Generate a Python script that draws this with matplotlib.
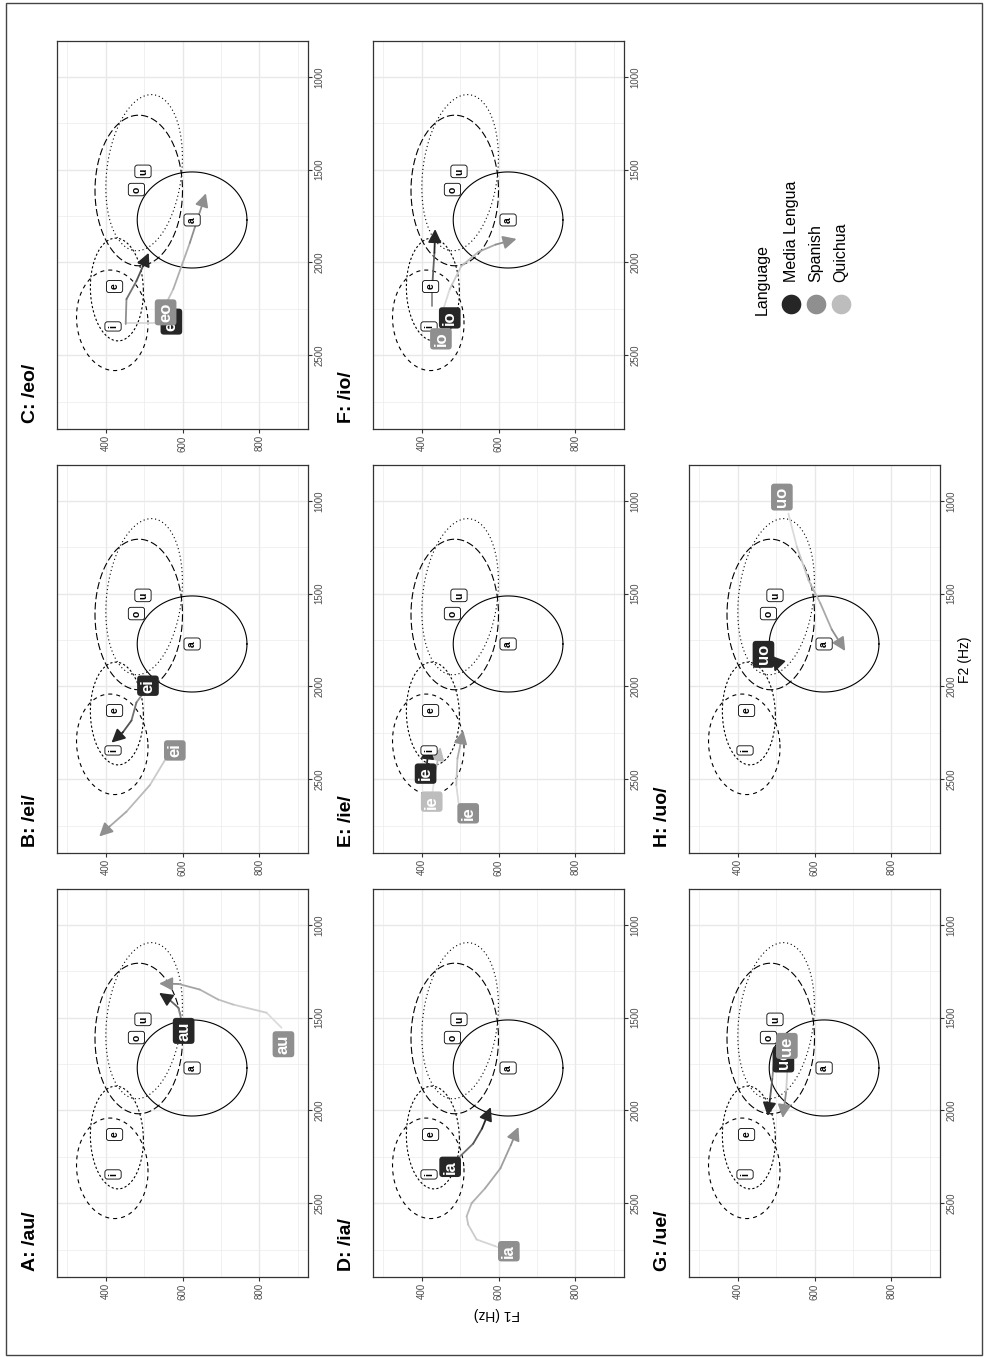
import numpy as np
import matplotlib.pyplot as plt
from matplotlib.collections import LineCollection
from matplotlib.patches import Rectangle
from matplotlib.colors import to_rgb

plt.rcParams['font.family'] = ['Liberation Sans', 'DejaVu Sans']
plt.rcParams['lines.scale_dashes'] = False

W, H = 988, 1357

# ---- vowel space (F1, F2 in Hz) ----
vowels = ['i', 'e', 'a', 'o', 'u']
vowel_f1 = [419, 423, 625, 480, 497]
vowel_f2 = [2345, 2130, 1771, 1607, 1509]
ell_f1 = [417, 429, 625, 486, 500]
ell_f2 = [2312, 2146, 1771, 1612, 1516]
ell_rf1 = [93, 69, 143, 114, 98]
ell_rf2 = [271, 277, 259, 406, 421]
ell_shear = [6, 3, 0, 0, -19]

# ---- diphthong trajectories (F1 list, F2 list) ----
A_ml = ([603, 589, 567, 539], [1560, 1446, 1405, 1366])
A_sp = ([858, 819, 732, 693, 645, 590, 539], [1554, 1473, 1429, 1402, 1348, 1318, 1316])
B_ml = ([500, 480, 467, 445, 415], [2030, 2086, 2184, 2246, 2303])
B_sp = ([580, 554, 515, 454, 410, 383], [2345, 2398, 2532, 2675, 2755, 2809])
C_ml = ([452, 454, 480, 497, 512], [2332, 2198, 2100, 2020, 1948])
C_sp = ([454, 532, 576, 619, 661], [2326, 2326, 2144, 1895, 1627])
D_ml = ([474, 503, 534, 557, 580], [2304, 2241, 2179, 2098, 1982])
D_sp = ([627, 592, 543, 521, 517, 530, 565, 605, 632, 652],
        [2759, 2732, 2696, 2616, 2571, 2500, 2420, 2312, 2187, 2089])
E_ml = ([412, 419], [2443, 2318])
E_qu = ([428, 437, 449], [2568, 2443, 2327])
E_sp = ([496, 490, 493, 502, 508], [2630, 2532, 2389, 2300, 2237])
F_ml = ([428, 428, 433, 435], [2233, 2109, 1948, 1820])
F_sp = ([455, 473, 503, 548, 592, 647], [2260, 2144, 2020, 1943, 1904, 1873])
G_ml = ([497, 490, 484, 478], [1687, 1830, 1938, 2030])
G_sp = ([530, 526, 517], [1759, 1902, 2041])
H_ml = ([490, 504, 496], [1832, 1875, 1921])
H_sp = ([532, 554, 584, 615, 645, 680], [1068, 1246, 1425, 1550, 1693, 1809])

# ---- diphthong label positions (F1, F2) ----
A_lab = {'ml': (603, 1571), 'sp': (863, 1643)}
B_lab = {'ml': (510, 1996), 'sp': (580, 2345)}
C_lab = {'ml': (571, 2319), 'sp': (556, 2269)}
D_lab = {'ml': (474, 2304), 'sp': (627, 2759)}
E_lab = {'ml': (410, 2470), 'qu': (426, 2621), 'sp': (521, 2684)}
F_lab = {'ml': (473, 2299), 'sp': (450, 2412)}
G_lab = {'ml': (519, 1725), 'sp': (528, 1652)}
H_lab = {'ml': (467, 1827), 'sp': (515, 979)}

panels = [
    ('A: /au/', 'au', 0, 2, {'ml': A_ml, 'sp': A_sp}, A_lab),
    ('B: /ei/', 'ei', 0, 1, {'ml': B_ml, 'sp': B_sp}, B_lab),
    ('C: /eo/', 'eo', 0, 0, {'ml': C_ml, 'sp': C_sp}, C_lab),
    ('D: /ia/', 'ia', 1, 2, {'ml': D_ml, 'sp': D_sp}, D_lab),
    ('E: /ie/', 'ie', 1, 1, {'ml': E_ml, 'qu': E_qu, 'sp': E_sp}, E_lab),
    ('F: /io/', 'io', 1, 0, {'ml': F_ml, 'sp': F_sp}, F_lab),
    ('G: /ue/', 'ue', 2, 2, {'ml': G_ml, 'sp': G_sp}, G_lab),
    ('H: /uo/', 'uo', 2, 1, {'ml': H_ml, 'sp': H_sp}, H_lab),
]

languages = ['Media Lengua', 'Spanish', 'Quichua']
lang_keys = ['ml', 'sp', 'qu']
lang_fill = {'ml': '#262626', 'sp': '#8f8f8f', 'qu': '#bdbdbd'}
line_start = {'ml': '#9e9e9e', 'sp': '#e3e3e3', 'qu': '#efefef'}
ell_dash = [(0, (2.9, 2.9)), (0, (1.6, 1.6)), '-', (0, (5.2, 2.2)), (0, (0.8, 2.0))]

col_left = [57, 373, 689]
row_top = [41, 465, 889]
PW, PH = 251, 388


def blend(c0, c1, t):
    a, b = np.array(to_rgb(c0)), np.array(to_rgb(c1))
    return tuple(a + (b - a) * t)


def draw_traj(ax, f1, f2, key):
    c0, c1 = line_start[key], lang_fill[key]
    pts = np.column_stack([f1, f2])
    n = len(pts)
    if n > 2:
        segs = [pts[i:i + 2] for i in range(n - 2)]
        cols = [blend(c0, c1, (i + 0.5) / (n - 1)) for i in range(n - 2)]
        ax.add_collection(LineCollection(segs, colors=cols, linewidths=1.3,
                                         capstyle='round', zorder=3))
    ax.annotate('', xy=pts[-1], xytext=pts[-2], zorder=4,
                arrowprops=dict(arrowstyle='-|>,head_length=0.8,head_width=0.4',
                                color=c1, lw=1.3, mutation_scale=10,
                                shrinkA=0, shrinkB=0))


fig = plt.figure(figsize=(W / 100, H / 100), dpi=100)
lay = fig.add_axes([0, 0, 1, 1])
lay.set_xlim(0, W)
lay.set_ylim(H, 0)
lay.axis('off')

t = np.linspace(0, 2 * np.pi, 300)

for title, dip, c, r, trajs, labs in panels:
    left, top = col_left[c], row_top[r]
    ax = fig.add_axes([left / W, 1 - (top + PH) / H, PW / W, PH / H])
    ax.set_xlim(273, 927)
    ax.set_ylim(2898, 806)
    ax.set_xticks([400, 600, 800])
    ax.set_xticks([300, 500, 700, 900], minor=True)
    ax.set_yticks([1000, 1500, 2000, 2500])
    ax.set_yticks([1250, 1750, 2250, 2750], minor=True)
    ax.yaxis.tick_right()
    ax.grid(which='major', color='#e8e8e8', lw=1.0)
    ax.grid(which='minor', color='#ebebeb', lw=0.5)
    ax.set_axisbelow(True)
    ax.tick_params(which='major', length=3, width=0.8, color='#333333',
                   labelsize=7, labelcolor='#4d4d4d', pad=1.5)
    ax.tick_params(which='minor', length=0)
    ax.tick_params(axis='x', labelrotation=90)
    ax.tick_params(axis='y', labelrotation=90)
    for lab in ax.get_yticklabels():
        lab.set_va('center')
    for sp in ax.spines.values():
        sp.set_color('#333333')
        sp.set_linewidth(0.9)

    # vowel ellipses
    for i in range(len(vowels)):
        ex = ell_f1[i] + ell_rf1[i] * np.cos(t) + ell_shear[i] * np.sin(t)
        ey = ell_f2[i] + ell_rf2[i] * np.sin(t)
        ax.plot(ex, ey, color='black', lw=0.8, linestyle=ell_dash[i], zorder=2)
    for i, v in enumerate(vowels):
        ax.text(vowel_f1[i], vowel_f2[i], v, rotation=90, ha='center', va='center',
                fontsize=7.5, fontweight='bold', zorder=5,
                bbox=dict(boxstyle='round,pad=0.3,rounding_size=0.25', fc='white',
                          ec='black', lw=0.6))

    # trajectories
    for key in ['qu', 'sp', 'ml']:
        if key in trajs:
            draw_traj(ax, trajs[key][0], trajs[key][1], key)
    for key in ['ml', 'qu', 'sp']:
        if key in labs:
            x, y = labs[key]
            ax.text(x, y, dip, rotation=90, ha='center', va='center', fontsize=12,
                    fontweight='bold', color='white', zorder=6,
                    bbox=dict(boxstyle='round,pad=0.2,rounding_size=0.2',
                              fc=lang_fill[key], ec='none'))

    lay.text(left - 27, top + PH - 6, title, rotation=90, ha='center', va='bottom',
             fontsize=14, fontweight='bold')

# axis titles
lay.text(497, 1314, 'F1 (Hz)', rotation=180, ha='center', va='center', fontsize=10)
lay.text(965, 660, 'F2 (Hz)', rotation=90, ha='center', va='center', fontsize=10)

# legend
lay.text(762, 315, 'Language', rotation=90, ha='center', va='bottom', fontsize=11.5)
leg_x = [791, 816, 841]
for k, name in enumerate(languages):
    lay.scatter([leg_x[k]], [304], s=200, color=lang_fill[lang_keys[k]], lw=0)
    lay.text(leg_x[k], 282, name, rotation=90, ha='center', va='bottom', fontsize=11.5)

# page frame
lay.add_patch(Rectangle((6, 3), 976, 1352, fill=False, ec='#444444', lw=1))

fig.savefig('out.png', dpi=100)
